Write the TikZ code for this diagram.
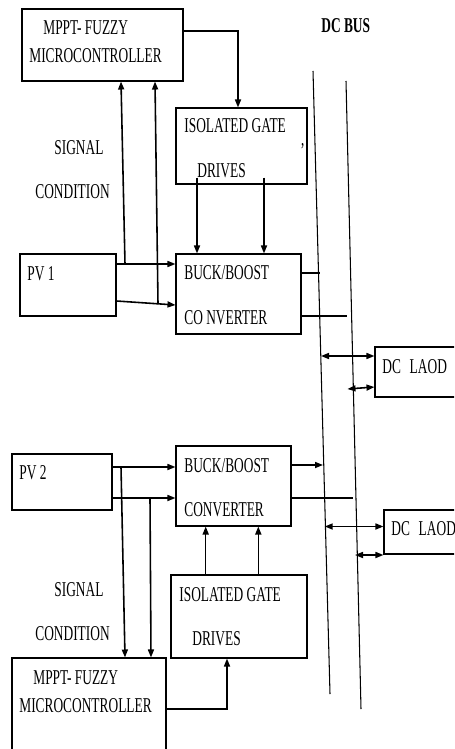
\documentclass[tikz,border=0pt]{standalone}
\usepackage{fontspec}
\setmainfont{Liberation Serif}[FakeStretch=0.635]
\usetikzlibrary{arrows.meta,positioning,fit,calc}

\begin{document}
\begin{tikzpicture}[
  x=0.02cm, y=-0.02cm,
  font=\fontsize{12}{14}\selectfont,
  box/.style={draw, line width=0.6pt, inner sep=0pt},
  lbl/.style={anchor=base west, inner sep=0pt},
  arr/.style={-{Triangle[length=1.6mm,width=1.2mm]}, line width=0.9pt},
  darr/.style={{Triangle[length=1.6mm,width=1.2mm]}-{Triangle[length=1.6mm,width=1.2mm]}, line width=0.9pt},
  wire/.style={line width=0.6pt}
]
  \useasboundingbox (0,0) rectangle (454,749);
  \clip (0,0) rectangle (454,749);

  % blocks
  \node[box, fit={(22,9) (183,81)}] (mpptone) {};
  \node[box, fit={(176,108) (307,184)}] (gateone) {};
  \node[box, fit={(20,254) (116,316)}] (pvone) {};
  \node[box, fit={(176,254) (301,334)}] (buckone) {};
  \node[box, fit={(375,347) (470,397)}] (loadone) {};
  \node[box, fit={(12,454) (112,510)}] (pvtwo) {};
  \node[box, fit={(176,446) (291,526)}] (bucktwo) {};
  \node[box, fit={(384,510) (470,554)}] (loadtwo) {};
  \node[box, fit={(171,575) (307,658)}] (gatetwo) {};
  \node[box, fit={(12,658) (166,780)}] (mppttwo) {};

  % labels
  \node[lbl] (tmpptone) at (43,35) {MPPT- FUZZY};
  \node[lbl] (tmcuone) at (29,63) {MICROCONTROLLER};
  \node[lbl, font=\fontsize{12}{14}\selectfont\bfseries] (tbus) at (321,33) {DC BUS};
  \node[lbl] (tgateone) at (184,133) {ISOLATED GATE};
  \node[lbl] (tdrvone) at (197,178) {DRIVES};
  \node[lbl] (tmark) at (300,158) {'};
  \node[lbl] (tsigone) at (54,155) {SIGNAL};
  \node[lbl] (tcondone) at (35,199) {CONDITION};
  \node[lbl] (tpvone) at (27,281) {PV 1};
  \node[lbl] (tbuckone) at (184,280) {BUCK/BOOST};
  \node[lbl] (tconvone) at (184,324) {CO NVERTER};
  \node[lbl] (tloadone) at (382,373) {DC\hspace{5pt}LAOD};
  \node[lbl] (tpvtwo) at (19,479) {PV 2};
  \node[lbl] (tbucktwo) at (184,472) {BUCK/BOOST};
  \node[lbl] (tconvtwo) at (184,516) {CONVERTER};
  \node[lbl] (tloadtwo) at (391,535) {DC\hspace{5pt}LAOD};
  \node[lbl] (tsigtwo) at (54,596) {SIGNAL};
  \node[lbl] (tcondtwo) at (35,640) {CONDITION};
  \node[lbl] (tgatetwo) at (179,601) {ISOLATED GATE};
  \node[lbl] (tdrvtwo) at (192,645) {DRIVES};
  \node[lbl] (tmppttwo) at (33,684) {MPPT- FUZZY};
  \node[lbl] (tmcutwo) at (19,712) {MICROCONTROLLER};

  % dc bus
  \coordinate (busa1) at (313,71);
  \coordinate (busa2) at (330,694);
  \coordinate (busb1) at (346,81);
  \coordinate (busb2) at (361,709);
  \draw[wire] (busa1) -- (busa2);
  \draw[wire] (busb1) -- (busb2);

  \coordinate (jone) at (125,264);
  \coordinate (jtwo) at (158,304);
  \coordinate (jthree) at (121,467);
  \coordinate (jfour) at (150,498);
  \coordinate (bone) at (320,273);
  \coordinate (btwo) at (346.7,316);
  \coordinate (bthree) at (323,465);
  \coordinate (bfour) at (353.3,498);
  \coordinate (lone) at (321,356);
  \coordinate (ltwo) at (347.5,389);
  \coordinate (lthree) at (324.7,526.5);
  \coordinate (lfour) at (355,555);

  % upper half
  \draw[arr] (mpptone.east |- 0,31) -| (gateone.north -| 238,0);
  \draw[arr] (pvone.east |- jone) -- (buckone.west |- jone);
  \draw[arr] (pvone.east |- 0,301) -- (buckone.west |- 0,305);
  \draw[arr] (jone) -- (mpptone.south -| 121,0);
  \draw[arr] (jtwo) -- (mpptone.south -| 155,0);
  \draw[arr] ($(gateone.south -| 197,0)+(0,-7)$) -- (buckone.north -| 197,0);
  \draw[arr] ($(gateone.south -| 264,0)+(0,-7)$) -- (buckone.north -| 264,0);
  \draw[wire] (buckone.east |- bone) -- (bone);
  \draw[wire] (buckone.east |- btwo) -- (btwo);
  \draw[darr] (lone) -- (loadone.west |- lone);
  \draw[darr] (ltwo) -- (loadone.west |- 0,387);

  % lower half
  \draw[arr] (pvtwo.east |- jthree) -- (bucktwo.west |- jthree);
  \draw[arr] (pvtwo.east |- jfour) -- (bucktwo.west |- jfour);
  \draw[arr] (jthree) -- (mppttwo.north -| 125,0);
  \draw[arr] (jfour) -- (mppttwo.north -| 151,0);
  \draw[arr] (gatetwo.north -| 205.7,0) -- (bucktwo.south -| 205.7,0);
  \draw[arr] (gatetwo.north -| 258.3,0) -- (bucktwo.south -| 258.3,0);
  \draw[arr] (mppttwo.east |- 0,709) -| (gatetwo.south -| 227,0);
  \draw[arr] (bucktwo.east |- bthree) -- (bthree);
  \draw[wire] (bucktwo.east |- bfour) -- (bfour);
  \draw[darr] (lthree) -- (loadtwo.west |- lthree);
  \draw[darr] (lfour) -- (loadtwo.west |- lfour);
\end{tikzpicture}
\end{document}
